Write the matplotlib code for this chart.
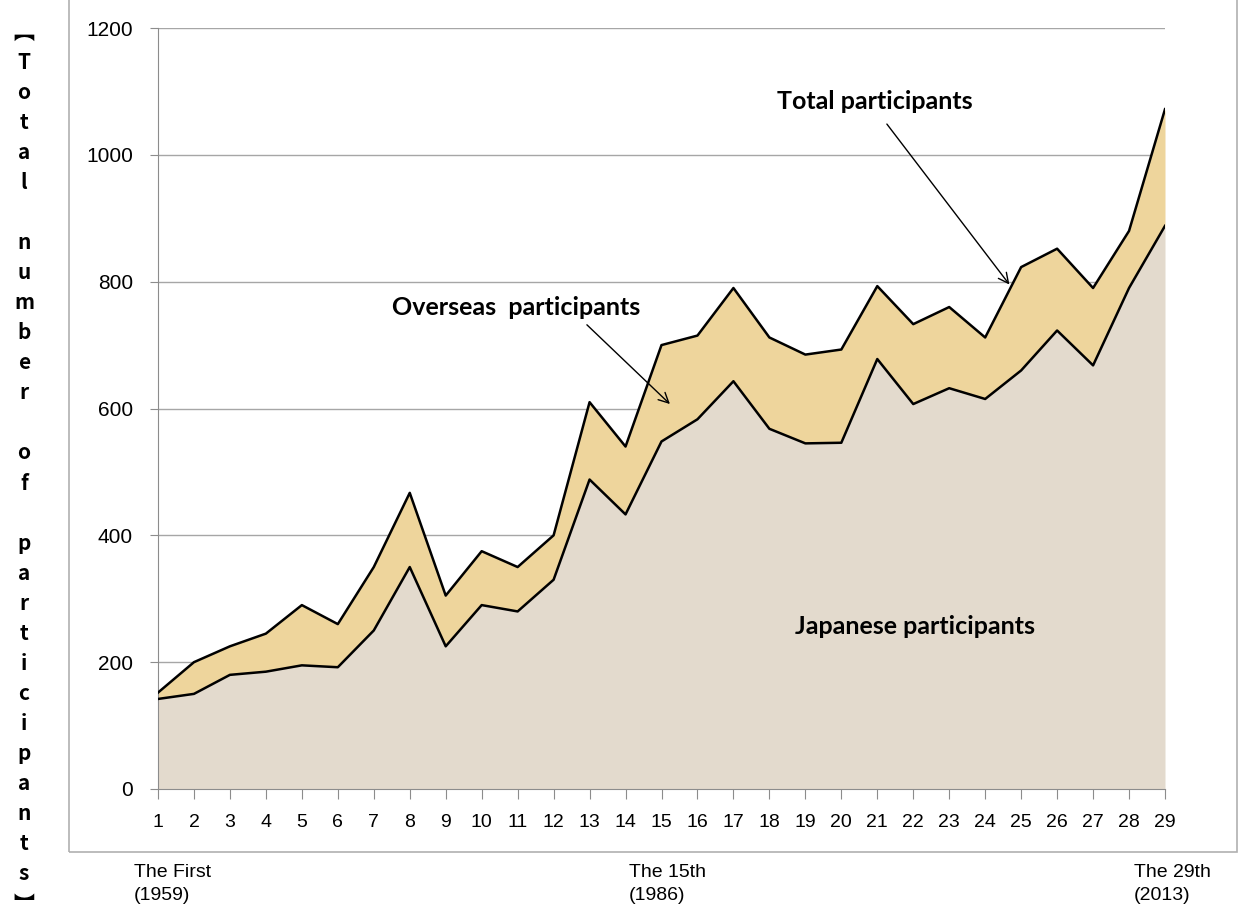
import matplotlib
matplotlib.use("Agg")
import matplotlib.pyplot as plt
from matplotlib.patches import Rectangle
import numpy as np

# Datos
sessions = list(range(1, 30))
total_participants = [152, 200, 225, 245, 290, 260, 350, 467, 305, 375,
                      350, 400, 610, 540, 700, 715, 790, 712, 685, 693,
                      793, 733, 760, 712, 823, 852, 790, 880, 1072]
japanese_participants = [142, 150, 180, 185, 195, 192, 250, 350, 225, 290,
                         280, 330, 488, 433, 548, 583, 643, 568, 545, 546,
                         678, 607, 632, 615, 660, 723, 668, 790, 888]
y_ticks = [0, 200, 400, 600, 800, 1000, 1200]
bottom_labels = ["The First\n(1959)", "The 15th\n(1986)", "The 29th\n(2013)"]
y_label = "︻Total number of participants︼"

W, H = 1242, 917
fig = plt.figure(figsize=(W / 100, H / 100), dpi=100)
ax = fig.add_axes([158 / W, 1 - 789 / H, (1165 - 158) / W, (789 - 28) / H])

x = np.array(sessions)
tot = np.array(total_participants)
jap = np.array(japanese_participants)

# Areas
ax.fill_between(x, 0, jap, color="#e3dacd", zorder=2, linewidth=0)
ax.fill_between(x, jap, tot, color="#eed59c", zorder=2, linewidth=0)
ax.plot(x, jap, color="black", lw=1.8, zorder=3)
ax.plot(x, tot, color="black", lw=1.8, zorder=3)

ax.set_xlim(1, 29)
ax.set_ylim(0, 1200)
ax.set_yticks(y_ticks)
ax.set_xticks(sessions)
ax.grid(axis="y", color="#a6a6a6", lw=1, zorder=1)
ax.set_axisbelow(True)
for s in ["top", "right"]:
    ax.spines[s].set_visible(False)
for s in ["left", "bottom"]:
    ax.spines[s].set_color("#8c8c8c")
ax.tick_params(axis="y", direction="out", length=6, color="#8c8c8c",
               labelsize=15, pad=12)
ax.tick_params(axis="x", direction="out", length=7, color="#8c8c8c",
               labelsize=14, pad=11)
for lab in ax.get_xticklabels():
    lab.set_family(["Liberation Sans"])
    lab.set_stretch("condensed")
for lab in ax.get_yticklabels():
    lab.set_family(["Liberation Sans"])

# Anotaciones
bold_font = dict(family="Lato", weight="bold", fontsize=18)
ax.text(10.96, 759, "Overseas  participants", ha="center", va="center", **bold_font)
ax.text(20.94, 1084, "Total participants", ha="center", va="center", **bold_font)
ax.text(22.05, 256, "Japanese participants", ha="center", va="center", **bold_font)
ax.annotate("", xy=(15.29, 604), xytext=(12.87, 735),
            arrowprops=dict(arrowstyle="->", lw=1, color="black", mutation_scale=18))
ax.annotate("", xy=(24.72, 792), xytext=(21.22, 1052),
            arrowprops=dict(arrowstyle="->", lw=1, color="black", mutation_scale=18))

# Marco exterior
fig.patches.append(Rectangle((69 / W, 1 - 852 / H), (1237 - 69) / W, 852 / H + 0.01,
                             transform=fig.transFigure, fill=False,
                             edgecolor="#b0b0b0", lw=1.2))

# Etiqueta vertical del eje y, letra por letra
y0, y1 = 32, 904
step = (y1 - y0) / (len(y_label) - 1)
for i, ch in enumerate(y_label):
    fig.text(24 / W, 1 - (y0 + i * step) / H, ch, ha="center", va="center",
             fontsize=15, weight="bold", family=["Noto Sans CJK JP", "DejaVu Sans"])

# Etiquetas inferiores
for px, lab in zip([134, 629, 1134], bottom_labels):
    fig.text(px / W, 1 - 884 / H, lab, ha="left", va="center", fontsize=14,
             family=["Liberation Sans"], linespacing=1.45)

fig.savefig("out.png", dpi=100)
